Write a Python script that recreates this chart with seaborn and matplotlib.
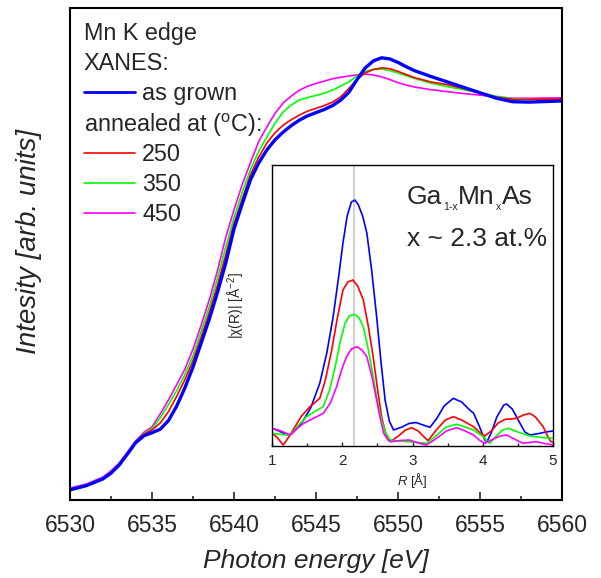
import numpy as np
import pandas as pd
import matplotlib
matplotlib.use('Agg')
import matplotlib.pyplot as plt
import seaborn as sns
from matplotlib.lines import Line2D
from matplotlib.ticker import MultipleLocator

sns.set_style('white')
plt.rcParams['font.family'] = ['Liberation Sans', 'DejaVu Sans']
plt.rcParams['mathtext.fontset'] = 'custom'
plt.rcParams['mathtext.rm'] = 'Liberation Sans'
plt.rcParams['mathtext.it'] = 'Liberation Sans:italic'

# XANES (main panel)
energy = [6530.0, 6531.0, 6532.0, 6532.5, 6533.0, 6533.5, 6534.0, 6534.5, 6535.0, 6535.5, 6536.0, 6536.5,
          6537.0, 6537.5, 6538.0, 6538.5, 6539.0, 6539.5, 6540.0, 6540.5, 6541.0, 6541.5, 6542.0, 6542.5,
          6543.0, 6543.5, 6544.0, 6544.5, 6545.0, 6545.5, 6546.0, 6546.5, 6547.0, 6547.5, 6548.0, 6548.5,
          6549.0, 6549.5, 6550.0, 6550.5, 6551.0, 6552.0, 6553.0, 6554.0, 6555.0, 6556.0, 6557.0, 6558.0,
          6560.0]
mu_grown = [0.000, 0.011, 0.028, 0.043, 0.064, 0.092, 0.121, 0.139, 0.147, 0.156, 0.178, 0.215,
            0.262, 0.316, 0.378, 0.440, 0.509, 0.584, 0.671, 0.735, 0.797, 0.840, 0.874, 0.900,
            0.920, 0.937, 0.951, 0.962, 0.970, 0.978, 0.988, 1.002, 1.022, 1.055, 1.085, 1.103,
            1.111, 1.108, 1.099, 1.088, 1.078, 1.063, 1.049, 1.035, 1.021, 1.007, 0.998, 0.997,
            1.000]
mu_250 = [0.002, 0.012, 0.029, 0.045, 0.066, 0.094, 0.124, 0.143, 0.154, 0.172, 0.201, 0.240,
          0.283, 0.332, 0.393, 0.457, 0.527, 0.605, 0.685, 0.748, 0.810, 0.855, 0.892, 0.918,
          0.938, 0.952, 0.964, 0.974, 0.981, 0.988, 0.997, 1.010, 1.032, 1.055, 1.072, 1.081,
          1.085, 1.083, 1.076, 1.068, 1.060, 1.049, 1.042, 1.032, 1.021, 1.010, 1.004, 1.004,
          1.005]
mu_350 = [0.003, 0.013, 0.030, 0.046, 0.066, 0.094, 0.124, 0.145, 0.157, 0.185, 0.219, 0.255,
          0.296, 0.345, 0.408, 0.472, 0.545, 0.625, 0.700, 0.765, 0.823, 0.870, 0.907, 0.943,
          0.972, 0.990, 1.003, 1.009, 1.014, 1.020, 1.028, 1.038, 1.049, 1.064, 1.076, 1.081,
          1.082, 1.078, 1.072, 1.065, 1.058, 1.046, 1.037, 1.029, 1.021, 1.012, 1.006, 1.004,
          1.003]
mu_450 = [0.005, 0.015, 0.033, 0.049, 0.069, 0.097, 0.126, 0.148, 0.162, 0.195, 0.231, 0.270,
          0.310, 0.362, 0.424, 0.490, 0.565, 0.650, 0.720, 0.785, 0.841, 0.895, 0.933, 0.968,
          0.995, 1.013, 1.028, 1.038, 1.045, 1.051, 1.057, 1.061, 1.064, 1.067, 1.069, 1.067,
          1.062, 1.055, 1.047, 1.041, 1.036, 1.029, 1.024, 1.019, 1.015, 1.010, 1.007, 1.007,
          1.008]

# EXAFS Fourier transform (inset)
r_grown = [1.00, 1.10, 1.20, 1.26, 1.35, 1.45, 1.55, 1.68, 1.78, 1.87, 1.95, 2.01, 2.07, 2.13, 2.18, 2.23,
           2.29, 2.35, 2.42, 2.49, 2.55, 2.61, 2.67, 2.73, 2.85, 2.95, 3.05, 3.15, 3.25, 3.35, 3.45, 3.58,
           3.70, 3.80, 3.87, 3.95, 4.03, 4.06, 4.12, 4.20, 4.30, 4.34, 4.42, 4.52, 4.60, 4.67, 4.80, 4.90,
           5.00]
chi_grown = [0.177, 0.150, 0.115, 0.110, 0.170, 0.260, 0.380, 0.627, 0.930, 1.290, 1.700, 2.030, 2.300,
             2.440, 2.460, 2.410, 2.300, 2.130, 1.750, 1.290, 0.850, 0.460, 0.250, 0.160, 0.190, 0.225,
             0.235, 0.210, 0.187, 0.280, 0.400, 0.477, 0.440, 0.370, 0.327, 0.200, 0.060, 0.043, 0.130,
             0.290, 0.410, 0.420, 0.370, 0.240, 0.140, 0.110, 0.125, 0.140, 0.150]

r_250 = [1.00, 1.08, 1.16, 1.23, 1.30, 1.42, 1.54, 1.62, 1.68, 1.76, 1.85, 1.93, 2.01, 2.08, 2.15, 2.22,
         2.30, 2.37, 2.44, 2.50, 2.56, 2.62, 2.68, 2.80, 2.90, 2.99, 3.08, 3.22, 3.35, 3.47, 3.58, 3.70,
         3.80, 3.87, 3.95, 4.03, 4.12, 4.22, 4.32, 4.40, 4.48, 4.58, 4.67, 4.75, 4.86, 4.93, 4.97, 5.00]
chi_250 = [0.133, 0.080, 0.010, 0.080, 0.160, 0.300, 0.393, 0.440, 0.477, 0.660, 0.960, 1.280, 1.560,
           1.640, 1.660, 1.600, 1.460, 1.200, 0.893, 0.580, 0.293, 0.120, 0.043, 0.100, 0.160, 0.183,
           0.150, 0.053, 0.170, 0.260, 0.293, 0.260, 0.220, 0.193, 0.140, 0.100, 0.150, 0.230, 0.267,
           0.270, 0.277, 0.310, 0.327, 0.290, 0.193, 0.090, 0.043, 0.040]

r_350 = [1.00, 1.13, 1.26, 1.38, 1.49, 1.62, 1.73, 1.82, 1.90, 1.97, 2.04, 2.10, 2.17, 2.24, 2.30, 2.37,
         2.44, 2.50, 2.56, 2.62, 2.68, 2.80, 2.96, 3.08, 3.20, 3.35, 3.48, 3.63, 3.75, 3.87, 3.95, 4.01,
         4.06, 4.10, 4.18, 4.28, 4.37, 4.50, 4.67, 4.85, 5.00]
chi_350 = [0.127, 0.115, 0.110, 0.210, 0.293, 0.350, 0.393, 0.560, 0.793, 1.040, 1.227, 1.300, 1.317,
           1.280, 1.193, 0.970, 0.693, 0.450, 0.260, 0.130, 0.060, 0.050, 0.043, 0.035, 0.027, 0.110,
           0.190, 0.217, 0.190, 0.160, 0.120, 0.093, 0.050, 0.027, 0.090, 0.160, 0.177, 0.140, 0.100,
           0.085, 0.077]

r_450 = [1.00, 1.13, 1.26, 1.35, 1.45, 1.60, 1.73, 1.83, 1.92, 1.99, 2.06, 2.13, 2.21, 2.28, 2.35, 2.42,
         2.48, 2.54, 2.59, 2.65, 2.70, 2.82, 2.96, 3.08, 3.20, 3.35, 3.48, 3.63, 3.75, 3.87, 3.95, 4.03,
         4.15, 4.25, 4.34, 4.45, 4.57, 4.66, 4.76, 4.88, 5.00]
chi_450 = [0.177, 0.150, 0.110, 0.170, 0.227, 0.280, 0.327, 0.430, 0.593, 0.760, 0.893, 0.970, 0.993,
           0.960, 0.893, 0.700, 0.493, 0.280, 0.127, 0.060, 0.043, 0.055, 0.060, 0.030, 0.010, 0.080,
           0.150, 0.183, 0.150, 0.110, 0.060, 0.027, 0.070, 0.100, 0.110, 0.070, 0.027, 0.035, 0.043,
           0.025, 0.010]

r_bond = 2.167

colors = {'as grown': '#0000ff', '250': '#ff0000', '350': '#00ff00', '450': '#ff00ff'}

fig = plt.figure(figsize=(6.01, 5.78), dpi=100)
ax = fig.add_axes([70 / 601, 1 - 500 / 578, 492 / 601, 492 / 578])

sns.lineplot(x=energy, y=mu_450, color=colors['450'], lw=1.2, ax=ax)
sns.lineplot(x=energy, y=mu_350, color=colors['350'], lw=1.2, ax=ax)
sns.lineplot(x=energy, y=mu_250, color=colors['250'], lw=1.2, ax=ax)
sns.lineplot(x=energy, y=mu_grown, color=colors['as grown'], lw=2.4, ax=ax)

ax.set_xlim(6530, 6560)
ax.set_ylim(-0.026, 1.239)
ax.set_yticks([])
ax.xaxis.set_major_locator(MultipleLocator(5))
ax.xaxis.set_minor_locator(MultipleLocator(2.5))
ax.tick_params(axis='x', which='major', direction='in', length=6, width=1.2, labelsize=16.5, pad=10, bottom=True)
ax.tick_params(axis='x', which='minor', direction='in', length=3, width=1.2, bottom=True)
for s in ax.spines.values():
    s.set_linewidth(1.5)
    s.set_color('black')
ax.set_xlabel('Photon energy [eV]', fontsize=19, style='italic', labelpad=9)
ax.set_ylabel('Intesity [arb. units]', fontsize=20, style='italic')
ax.yaxis.set_label_coords(-0.057, 0.526)

# legend block
fs = 16.8
ax.text(0.028, 0.949, 'Mn K edge', transform=ax.transAxes, fontsize=fs, va='center')
ax.text(0.028, 0.888, 'XANES:', transform=ax.transAxes, fontsize=fs, va='center')
ax.text(0.028, 0.762, 'annealed at ($^\\mathregular{o}$C):', transform=ax.transAxes, fontsize=fs, va='center')
h1 = [Line2D([], [], color=colors['as grown'], lw=2)]
leg1 = ax.legend(h1, ['as grown'], loc='center left', bbox_to_anchor=(0.028, 0.826), frameon=False,
                 fontsize=fs, handlelength=2.2, handletextpad=0.3, borderaxespad=0, borderpad=0)
ax.add_artist(leg1)
h2 = [Line2D([], [], color=colors[k], lw=1.2) for k in ['250', '350', '450']]
ax.legend(h2, ['250', '350', '450'], loc='upper left', bbox_to_anchor=(0.028, 0.726), frameon=False,
          fontsize=fs, handlelength=2.2, handletextpad=0.3, borderaxespad=0, borderpad=0,
          labelspacing=0.3)

# inset
ins = fig.add_axes([272 / 601, 1 - 446 / 578, 281 / 601, 281 / 578])
ins.axvline(r_bond, color='#d0d0d0', lw=1.5, zorder=0)
sns.lineplot(x=r_grown, y=chi_grown, color=colors['as grown'], lw=1.2, ax=ins)
sns.lineplot(x=r_250, y=chi_250, color=colors['250'], lw=1.2, ax=ins)
sns.lineplot(x=r_350, y=chi_350, color=colors['350'], lw=1.2, ax=ins)
sns.lineplot(x=r_450, y=chi_450, color=colors['450'], lw=1.2, ax=ins)
ins.set_xlim(1, 5)
ins.set_ylim(0, 2.81)
ins.set_yticks([])
ins.xaxis.set_major_locator(MultipleLocator(1))
ins.xaxis.set_minor_locator(MultipleLocator(0.5))
ins.tick_params(axis='x', which='major', direction='in', length=3, width=1, labelsize=11, pad=6, bottom=True)
ins.tick_params(axis='x', which='minor', direction='in', length=2, width=1, bottom=True)
for s in ins.spines.values():
    s.set_linewidth(1)
    s.set_color('black')
ins.set_xlabel('$\\mathit{R}$ [Å]', fontsize=9.5, labelpad=2)
ins.set_ylabel('|χ(R)| [Å$^{\\mathregular{-2}}$]', fontsize=10, labelpad=18)

# formula text with small subscripts
big = 19
t1 = ins.text(0.48, 0.86, 'Ga', transform=ins.transAxes, fontsize=big, va='baseline')
t2 = ins.annotate('1-x', xy=(1, 0), xycoords=t1, xytext=(0.5, -2), textcoords='offset points',
                  fontsize=7.5, va='bottom')
t3 = ins.annotate('Mn', xy=(1, 0), xycoords=(t2, t1), xytext=(0.5, 0), textcoords='offset points',
                  fontsize=big, va='bottom')
t4 = ins.annotate('x', xy=(1, 0), xycoords=t3, xytext=(0.5, -2), textcoords='offset points',
                  fontsize=7.5, va='bottom')
ins.annotate('As', xy=(1, 0), xycoords=(t4, t3), xytext=(0.5, 0), textcoords='offset points',
             fontsize=big, va='bottom')
ins.text(0.48, 0.71, 'x ~ 2.3 at.%', transform=ins.transAxes, fontsize=big, va='baseline')

fig.savefig('out.png', dpi=100)
